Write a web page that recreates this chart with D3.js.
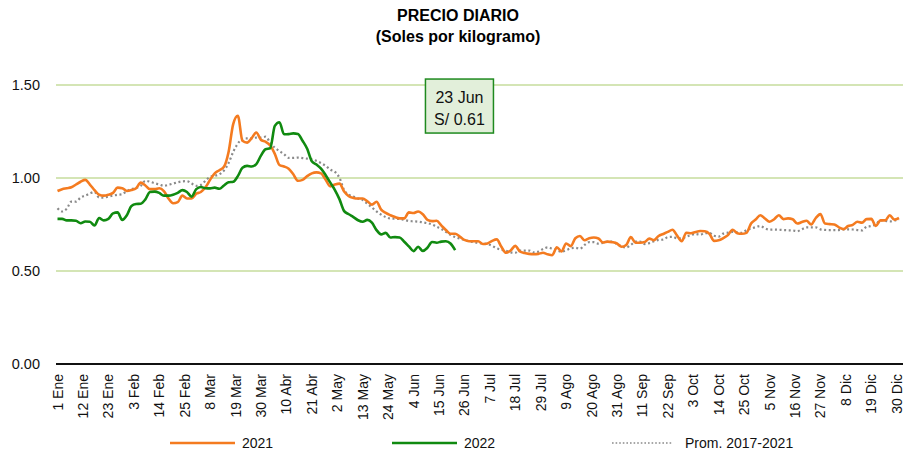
<!DOCTYPE html>
<html>
<head>
<meta charset="utf-8">
<script src="https://cdn.jsdelivr.net/npm/d3@7"></script>
<style>
  body { margin: 0; background: #fff; }
  svg { font-family: "Liberation Sans", Arial, sans-serif; }
</style>
</head>
<body>
<svg id="chart" width="921" height="454"></svg>
<script>
// etiquetas del eje x (cada 11 dias, empezando el 1 Ene)
var tickLabels = ["1 Ene", "12 Ene", "23 Ene", "3 Feb", "14 Feb", "25 Feb", "8 Mar", "19 Mar", "30 Mar",
  "10 Abr", "21 Abr", "2 May", "13 May", "24 May", "4 Jun", "15 Jun", "26 Jun", "7 Jul", "18 Jul",
  "29 Jul", "9 Ago", "20 Ago", "31 Ago", "11 Sep", "22 Sep", "3 Oct", "14 Oct", "25 Oct", "5 Nov",
  "16 Nov", "27 Nov", "8 Dic", "19 Dic", "30 Dic"];
var tickStep = 11;
var yTicks = [0, 0.5, 1.0, 1.5];

// series, un valor cada 2 dias desde el 1 Ene
var dayStep = 2;
var precio2021 = [
  0.93, 0.94, 0.945, 0.95, 0.965, 0.98, 0.99, 0.965, 0.935, 0.91,
  0.905, 0.91, 0.92, 0.948, 0.945, 0.93, 0.935, 0.945, 0.975, 0.96,
  0.94, 0.94, 0.945, 0.93, 0.89, 0.864, 0.87, 0.905, 0.89, 0.89,
  0.915, 0.925, 0.95, 0.99, 1.025, 1.042, 1.06, 1.14, 1.29, 1.335,
  1.20, 1.19, 1.215, 1.245, 1.205, 1.195, 1.175, 1.13, 1.07, 1.062,
  1.05, 1.02, 0.985, 0.99, 1.01, 1.025, 1.03, 1.025, 0.99, 0.955,
  0.965, 0.97, 0.927, 0.902, 0.893, 0.89, 0.89, 0.875, 0.857, 0.872,
  0.83, 0.812, 0.80, 0.79, 0.783, 0.783, 0.815, 0.812, 0.82, 0.805,
  0.775, 0.768, 0.77, 0.745, 0.72, 0.70, 0.70, 0.685, 0.667, 0.66,
  0.66, 0.66, 0.645, 0.648, 0.662, 0.67, 0.63, 0.598, 0.61, 0.635,
  0.605, 0.597, 0.592, 0.59, 0.592, 0.598, 0.59, 0.585, 0.628, 0.605,
  0.648, 0.634, 0.676, 0.688, 0.665, 0.676, 0.68, 0.675, 0.653, 0.658,
  0.655, 0.648, 0.63, 0.64, 0.682, 0.652, 0.652, 0.656, 0.674, 0.666,
  0.688, 0.699, 0.71, 0.722, 0.69, 0.66, 0.706, 0.703, 0.71, 0.715,
  0.714, 0.70, 0.662, 0.665, 0.677, 0.693, 0.722, 0.703, 0.70, 0.705,
  0.755, 0.777, 0.80, 0.782, 0.765, 0.778, 0.80, 0.779, 0.783, 0.778,
  0.755, 0.763, 0.77, 0.75, 0.785, 0.806, 0.755, 0.752, 0.75, 0.735,
  0.725, 0.742, 0.748, 0.765, 0.76, 0.779, 0.78, 0.742, 0.772, 0.772,
  0.80, 0.776, 0.785];
var precio2022 = [
  0.78, 0.78, 0.772, 0.772, 0.77, 0.757, 0.766, 0.765, 0.745, 0.785,
  0.772, 0.78, 0.81, 0.815, 0.775, 0.80, 0.85, 0.86, 0.862, 0.885,
  0.925, 0.927, 0.92, 0.905, 0.905, 0.91, 0.92, 0.935, 0.925, 0.90,
  0.94, 0.952, 0.945, 0.944, 0.948, 0.942, 0.96, 0.977, 0.98, 1.01,
  1.055, 1.065, 1.062, 1.075, 1.12, 1.155, 1.16, 1.28, 1.30, 1.235,
  1.236, 1.24, 1.237, 1.20, 1.157, 1.09, 1.072, 1.05, 1.015, 0.975,
  0.935, 0.885, 0.822, 0.805, 0.79, 0.773, 0.765, 0.775, 0.76, 0.72,
  0.697, 0.705, 0.68, 0.682, 0.68, 0.657, 0.632, 0.607, 0.63, 0.608,
  0.625, 0.656, 0.652, 0.658, 0.66, 0.648, 0.612];
var promedio = [
  0.837, 0.82, 0.835, 0.873, 0.873, 0.895, 0.905, 0.917, 0.925, 0.895,
  0.895, 0.90, 0.905, 0.91, 0.913, 0.93, 0.94, 0.947, 0.958, 0.985,
  0.98, 0.972, 0.965, 0.958, 0.963, 0.97, 0.977, 0.982, 0.983, 0.97,
  0.958, 0.963, 0.985, 1.007, 1.012, 1.02, 1.04, 1.08, 1.14, 1.185,
  1.21, 1.213, 1.214, 1.217, 1.217, 1.222, 1.19, 1.163, 1.145, 1.128,
  1.108, 1.108, 1.11, 1.107, 1.104, 1.10, 1.092, 1.08, 1.065, 1.045,
  1.033, 1.0, 0.935, 0.91, 0.90, 0.89, 0.882, 0.862, 0.842, 0.82,
  0.803, 0.79, 0.782, 0.781, 0.78, 0.775, 0.769, 0.767, 0.765, 0.761,
  0.757, 0.75, 0.738, 0.727, 0.71, 0.695, 0.683, 0.674, 0.667, 0.66,
  0.655, 0.65, 0.648, 0.645, 0.635, 0.622, 0.615, 0.609, 0.60, 0.598,
  0.61, 0.61, 0.61, 0.60, 0.604, 0.618, 0.627, 0.62, 0.612, 0.604,
  0.612, 0.622, 0.625, 0.62, 0.64, 0.655, 0.655, 0.647, 0.652, 0.658,
  0.658, 0.645, 0.632, 0.627, 0.64, 0.658, 0.658, 0.645, 0.65, 0.66,
  0.667, 0.669, 0.682, 0.684, 0.676, 0.676, 0.684, 0.693, 0.699, 0.695,
  0.704, 0.704, 0.69, 0.685, 0.701, 0.706, 0.71, 0.708, 0.705, 0.72,
  0.728, 0.736, 0.742, 0.73, 0.722, 0.723, 0.722, 0.72, 0.719, 0.718,
  0.714, 0.725, 0.735, 0.735, 0.735, 0.724, 0.721, 0.72, 0.72, 0.72,
  0.723, 0.724, 0.723, 0.72, 0.718, 0.738, 0.742, 0.752, 0.772, 0.77,
  0.766, 0.772, 0.775];
var ultimoDia = "23 Jun";

var series = [
  { name: "2021", values: precio2021, color: "#f47b20", dash: null, width: 2.6 },
  { name: "2022", values: precio2022, color: "#108a10", dash: null, width: 2.6 },
  { name: "Prom. 2017-2021", values: promedio, color: "#8a8a8a", dash: "2,2.6", width: 2.2 }
];

var svg = d3.select("#chart");

var xScale = d3.scaleLinear().domain([0, 363]).range([57.5, 896.7]);
var yScale = d3.scaleLinear().domain([0, 1.5]).range([364, 85]);
var plotLeft = 56, plotRight = 903;

// titulo
svg.append("text").attr("x", 458).attr("y", 21).attr("text-anchor", "middle")
  .attr("font-size", 16).attr("font-weight", "bold").text("PRECIO DIARIO");
svg.append("text").attr("x", 458).attr("y", 42).attr("text-anchor", "middle")
  .attr("font-size", 16).attr("font-weight", "bold").text("(Soles por kilogramo)");

// lineas de cuadricula
svg.append("g")
  .selectAll("line")
  .data(yTicks.filter(function (d) { return d > 0 }))
  .enter()
  .append("line")
  .attr("x1", plotLeft).attr("x2", plotRight)
  .attr("y1", function (d) { return yScale(d) })
  .attr("y2", function (d) { return yScale(d) })
  .attr("stroke", "#c6dc9c").attr("stroke-width", 1.5);

// eje y
svg.append("g")
  .selectAll("text")
  .data(yTicks)
  .enter()
  .append("text")
  .attr("x", 40)
  .attr("y", function (d) { return yScale(d) })
  .attr("dy", "0.35em")
  .attr("text-anchor", "end")
  .attr("font-size", 14.5)
  .attr("fill", "#111")
  .text(function (d) { return d3.format(".2f")(d) });

// lineas
var line = d3.line()
  .x(function (d, i) { return xScale(i * dayStep) })
  .y(function (d) { return yScale(d) })
  .curve(d3.curveMonotoneX);

// primero el promedio, luego 2021 y 2022 encima
[series[2], series[0], series[1]].forEach(function (s) {
  svg.append("path")
    .datum(s.values)
    .attr("fill", "none")
    .attr("stroke", s.color)
    .attr("stroke-width", s.width)
    .attr("stroke-dasharray", s.dash)
    .attr("stroke-linejoin", "round")
    .attr("d", line);
});

// eje x
svg.append("line")
  .attr("x1", plotLeft).attr("x2", plotRight)
  .attr("y1", yScale(0)).attr("y2", yScale(0))
  .attr("stroke", "#111").attr("stroke-width", 2);

svg.append("g")
  .selectAll("text")
  .data(tickLabels)
  .enter()
  .append("text")
  .attr("transform", function (d, i) { return "translate(" + xScale(i * tickStep) + "," + 374 + ") rotate(-90)" })
  .attr("dy", "0.36em")
  .attr("text-anchor", "end")
  .attr("font-size", 14)
  .attr("fill", "#111")
  .text(function (d) { return d });

// recuadro con el ultimo dato de 2022
var lastIndex = precio2022.length - 1;
var lastDay = 173;
var boxW = 68, boxH = 54;
var boxX = xScale(lastDay) - boxW / 2 + 2;
var boxY = yScale(1.532);
var note = svg.append("g");
note.append("rect")
  .attr("x", boxX).attr("y", boxY)
  .attr("width", boxW).attr("height", boxH)
  .attr("fill", "#e2efda").attr("stroke", "#1f8a1f").attr("stroke-width", 1.5);
note.append("text")
  .attr("x", boxX + boxW / 2).attr("y", boxY + 24)
  .attr("text-anchor", "middle").attr("font-size", 16).attr("fill", "#111")
  .text(ultimoDia);
note.append("text")
  .attr("x", boxX + boxW / 2).attr("y", boxY + 46)
  .attr("text-anchor", "middle").attr("font-size", 16).attr("fill", "#111")
  .text("S/ " + d3.format(".2f")(precio2022[lastIndex]));

// leyenda
var legendPos = [170, 392, 612];
var legend = svg.append("g")
  .selectAll("g")
  .data(series)
  .enter()
  .append("g")
  .attr("transform", function (d, i) { return "translate(" + legendPos[i] + ",443)" });
legend.append("line")
  .attr("x1", 0).attr("x2", function (d) { return d.dash ? 61 : 65 })
  .attr("stroke", function (d) { return d.color })
  .attr("stroke-width", function (d) { return d.dash ? 1.6 : 2.6 })
  .attr("stroke-dasharray", function (d) { return d.dash ? "1.6,2" : null });
legend.append("text")
  .attr("x", function (d) { return d.dash ? 73 : 72 })
  .attr("dy", "0.36em")
  .attr("font-size", 14)
  .attr("fill", "#111")
  .text(function (d) { return d.name });
</script>
</body>
</html>
